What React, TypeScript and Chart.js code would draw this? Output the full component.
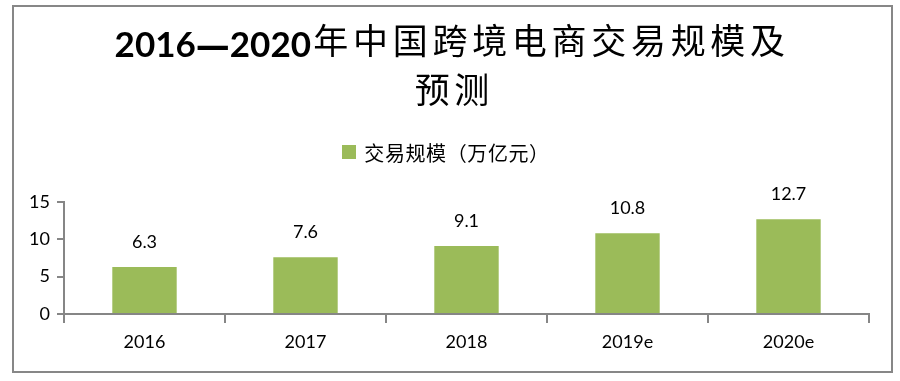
import React, { useEffect, useRef } from "react";
import { Chart, registerables } from "chart.js";

Chart.register(...registerables);

const categories = ["2016", "2017", "2018", "2019e", "2020e"];
const values = [6.3, 7.6, 9.1, 10.8, 12.7];
const seriesLabel = "交易规模（万亿元）";
const titleYearA = "2016";
const titleDash = "—";
const titleYearB = "2020";
const titleRest = "年中国跨境电商交易规模及";
const titleLine2 = "预测";
const yTicks = [0, 5, 10, 15];

const GREEN = "#9BBB59";
const GRAY = "#868686";
const LATIN = "Lato, 'Noto Sans', sans-serif";
const CJK = "'Noto Sans CJK SC', sans-serif";

function drawSpaced(ctx: any, text: string, x: number, y: number, adv: number) {
  const chars = Array.from(text);
  ctx.textAlign = "center";
  chars.forEach((c, i) => ctx.fillText(c, x + adv * i + adv / 2, y));
}

const decorPlugin = {
  id: "decor",
  beforeDraw(chart: any) {
    const ctx = chart.ctx;
    ctx.save();
    ctx.fillStyle = "#ffffff";
    ctx.fillRect(0, 0, chart.width, chart.height);
    ctx.strokeStyle = "#878787";
    ctx.lineWidth = 2;
    ctx.strokeRect(13, 6, 879, 366);
    ctx.restore();
  },
  afterDraw(chart: any) {
    const ctx = chart.ctx;
    ctx.save();
    ctx.fillStyle = "#000";
    const fNum = `bold 35px ${LATIN}`;
    const fDash = `bold 34px 'DejaVu Sans', sans-serif`;
    ctx.font = fNum;
    const wA = ctx.measureText(titleYearA).width;
    const wB = ctx.measureText(titleYearB).width;
    ctx.font = fDash;
    const wD = ctx.measureText(titleDash).width;
    const cjkAdv = 39.7;
    const wC = cjkAdv * Array.from(titleRest).length;
    const total = wA + wD + wB + wC;
    let x = 451 - total / 2;
    ctx.textBaseline = "alphabetic";
    ctx.textAlign = "left";
    ctx.font = fNum;
    ctx.fillText(titleYearA, x, 57);
    x += wA;
    ctx.font = fDash;
    ctx.fillText(titleDash, x, 57);
    x += wD;
    ctx.font = fNum;
    ctx.fillText(titleYearB, x, 57);
    x += wB;
    ctx.font = `normal 35px ${CJK}`;
    ctx.textBaseline = "middle";
    drawSpaced(ctx, titleRest, x, 41, cjkAdv);
    drawSpaced(ctx, titleLine2, 452 - cjkAdv, 90, cjkAdv);

    const ds = chart.data.datasets[0];
    ctx.fillStyle = ds.backgroundColor;
    ctx.fillRect(342, 145, 14, 14);
    ctx.fillStyle = "#000";
    ctx.font = `normal 20px ${CJK}`;
    ctx.textBaseline = "middle";
    drawSpaced(ctx, ds.label, 364, 153, 20.6);

    const meta = chart.getDatasetMeta(0);
    ctx.font = `normal 18px ${LATIN}`;
    ctx.textAlign = "center";
    ctx.textBaseline = "middle";
    meta.data.forEach((bar: any, i: number) => {
      ctx.fillText(String(ds.data[i]), bar.x, bar.y - 25);
    });
    ctx.restore();
  },
};

export default function App() {
  const ref = useRef<HTMLCanvasElement | null>(null);
  useEffect(() => {
    document.body.style.margin = "0";
    if (!ref.current) return;
    const chart = new Chart(ref.current, {
      type: "bar",
      data: {
        labels: categories,
        datasets: [
          {
            label: seriesLabel,
            data: values,
            backgroundColor: GREEN,
            barPercentage: 0.4,
            categoryPercentage: 1,
          },
        ],
      },
      options: {
        responsive: false,
        animation: false,
        devicePixelRatio: 1,
        layout: { padding: { left: 0, right: 31, top: 202, bottom: 0 } },
        plugins: {
          legend: { display: false },
          title: { display: false },
          tooltip: { enabled: false },
        },
        scales: {
          x: {
            afterFit: (s: any) => {
              s.height = 67;
            },
            grid: {
              offset: true,
              drawOnChartArea: false,
              drawTicks: true,
              tickLength: 9,
              color: GRAY,
              lineWidth: 2,
            },
            border: { display: true, color: GRAY, width: 2 },
            ticks: {
              color: "#000",
              font: { family: LATIN, size: 18 },
              padding: 8,
            },
          },
          y: {
            min: 0,
            max: 15,
            afterFit: (s: any) => {
              s.width = 64;
            },
            afterBuildTicks: (s: any) => {
              s.ticks = yTicks.map((v) => ({ value: v }));
            },
            grid: {
              drawOnChartArea: false,
              drawTicks: true,
              tickLength: 7,
              color: GRAY,
              lineWidth: 2,
            },
            border: { display: true, color: GRAY, width: 2 },
            ticks: {
              color: "#000",
              font: { family: LATIN, size: 18 },
              padding: 7,
            },
          },
        },
      },
      plugins: [decorPlugin],
    });
    return () => chart.destroy();
  }, []);
  return <canvas ref={ref} width={900} height={381} />;
}
